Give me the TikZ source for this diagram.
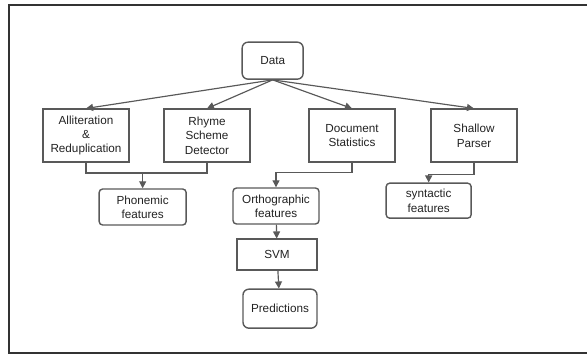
\documentclass[tikz,border=0pt]{standalone}
\usepackage{fontspec}
\setmainfont{Liberation Sans}
\usetikzlibrary{arrows.meta}

\definecolor{edge}{HTML}{595959}
\definecolor{ink}{HTML}{222222}

\begin{document}
\begin{tikzpicture}[
  >={Triangle[length=6pt,width=6pt]},
  font=\fontsize{10}{12.2}\selectfont, text=ink,
  step box/.style={rectangle, draw=edge, line width=1.2pt, align=center, minimum width=2.58cm, minimum height=1.59cm, inner sep=2pt},
  start box/.style={rectangle, rounded corners=5pt, draw=edge, line width=1.2pt, align=center, inner sep=2pt},
  feat box/.style={rectangle, rounded corners=3pt, draw=edge, line width=1.2pt, align=center, inner sep=2pt},
  link/.style={draw=edge, line width=1pt}
]
  \useasboundingbox (0,0) rectangle (17.61,-10.62);
  \draw[line width=1pt, black!80] (17.61,-0.15) -- (0.27,-0.15) -- (0.27,-10.59) -- (17.61,-10.59);

  \node[start box, minimum width=1.83cm, minimum height=1.11cm] (data) at (8.18,-1.82) {Data};
  \node[step box] (allit) at (2.58,-4.07) {Alliteration\\\&\\Reduplication};
  \node[step box] (rhyme) at (6.21,-4.07) {Rhyme\\Scheme\\Detector};
  \node[step box] (docstat) at (10.56,-4.07) {Document\\Statistics};
  \node[step box] (parser) at (14.22,-4.07) {Shallow\\Parser};
  \node[feat box, minimum width=2.61cm, minimum height=1.08cm] (phon) at (4.28,-6.21) {Phonemic\\features};
  \node[feat box, minimum width=2.58cm, minimum height=1.08cm] (ortho) at (8.28,-6.18) {Orthographic\\features};
  \node[feat box, minimum width=2.55cm, minimum height=1.05cm] (synt) at (12.86,-6.02) {syntactic\\features};
  \node[rectangle, draw=edge, line width=1.2pt, minimum width=2.4cm, minimum height=0.93cm] (svm) at (8.31,-7.64) {SVM};
  \node[start box, minimum width=2.22cm, minimum height=1.17cm] (pred) at (8.40,-9.26) {Predictions};

  \draw[link, ->] (data.south) -- (allit.north);
  \draw[link, ->] (data.south) -- (rhyme.north);
  \draw[link, ->] (data.south) -- (docstat.north);
  \draw[link, ->] (data.south) -- (parser.north);

  % phonemic features are fed by both of the first two extractors
  \coordinate (pj) at (4.28,-5.19);
  \draw[link] (allit.south) |- (pj) -| (rhyme.south);
  \draw[link, ->] (pj) -- (phon.north);

  \draw[link, ->] (docstat.south) -- ++(0,-0.3) -| (ortho.north);
  \draw[link, ->] (parser.south) -- ++(0,-0.36) -| (synt.north);
  \draw[link, ->] (ortho) -- (svm);
  \draw[link, ->] (svm) -- (pred);
\end{tikzpicture}
\end{document}
